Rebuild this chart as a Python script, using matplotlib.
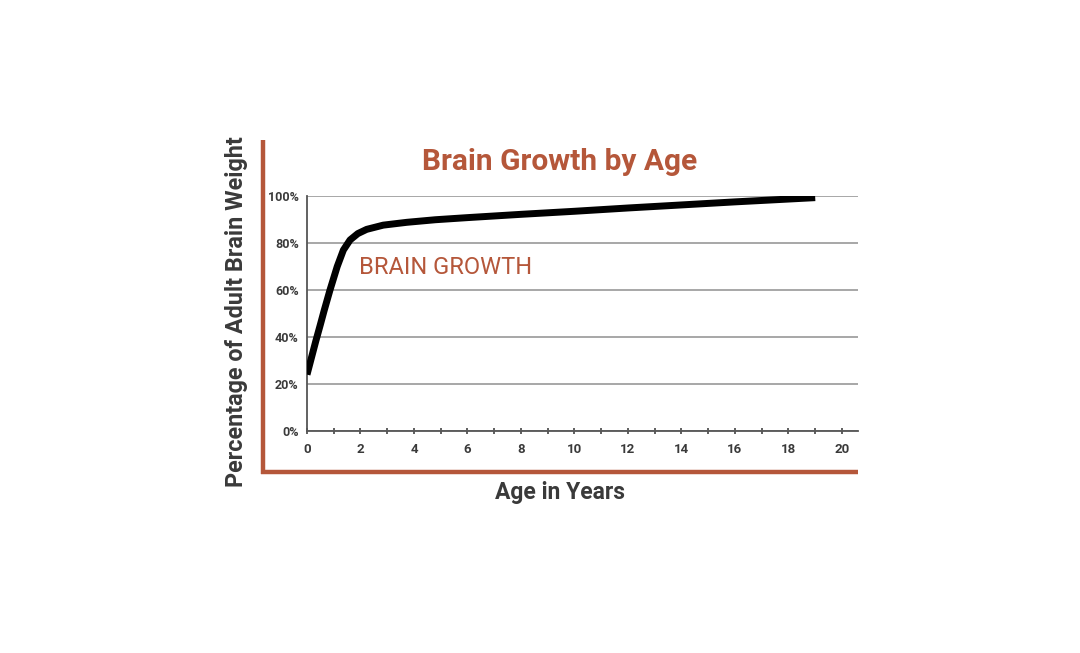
import numpy as np
import matplotlib.pyplot as plt
from matplotlib.ticker import MultipleLocator, FuncFormatter

# 年龄（岁）与成人脑重百分比
age = [0, 0.15, 0.33, 0.5, 0.64, 0.86, 1.13, 1.36, 1.61, 1.9, 2.23, 2.85, 3.73,
       4.8, 6, 8, 10, 12, 14, 16, 19]
pct = [24, 30.5, 38.3, 45.3, 51.2, 60, 70, 77, 81.3, 84, 85.8, 87.6, 88.8,
       89.9, 90.8, 92.2, 93.5, 94.9, 96.2, 97.5, 99.3]

x_ticks = [0, 2, 4, 6, 8, 10, 12, 14, 16, 18, 20]
y_ticks = [0, 20, 40, 60, 80, 100]

rust = '#b5573a'
dark = '#3a3a3a'

plt.rcParams['font.family'] = ['Roboto', 'DejaVu Sans']

fig = plt.figure(figsize=(10.8, 6.53), dpi=100)
ax = fig.add_axes([307 / 1080, 1 - 431 / 653, 551 / 1080, 235 / 653])

ax.plot(age, pct, color='black', lw=5, solid_capstyle='butt',
        solid_joinstyle='round', zorder=3)

ax.set_xlim(0, 20.6)
ax.set_ylim(0, 100)
ax.set_xticks(x_ticks)
ax.xaxis.set_minor_locator(MultipleLocator(1))
ax.set_yticks(y_ticks)
ax.yaxis.set_major_formatter(FuncFormatter(lambda v, p: f'{int(v)}%'))

ax.grid(axis='y', color='#a0a0a0', lw=1.3)
for s in ['top', 'right']:
    ax.spines[s].set_visible(False)
for s in ['left', 'bottom']:
    ax.spines[s].set_color('#555555')
    ax.spines[s].set_linewidth(1.3)

ax.tick_params(axis='x', which='both', direction='inout', length=5, width=1.2,
               color='#444444', labelsize=9.5, labelcolor=dark, pad=6)
ax.tick_params(axis='y', length=0, labelsize=9, labelcolor=dark, pad=6)
for lab in ax.get_xticklabels() + ax.get_yticklabels():
    lab.set_fontweight('bold')

ax.text(1.95, 69.5, 'BRAIN GROWTH', color=rust, fontsize=17, va='center', ha='left')

# 外框的橙色线
fig.add_artist(plt.Line2D([263 / 1080, 263 / 1080], [1 - 140 / 653, 1 - 474 / 653],
                          color=rust, lw=3.2, solid_capstyle='butt'))
fig.add_artist(plt.Line2D([261 / 1080, 858 / 1080], [1 - 472 / 653, 1 - 472 / 653],
                          color=rust, lw=3.2, solid_capstyle='butt'))

fig.text(560 / 1080, 1 - 162 / 653, 'Brain Growth by Age', color=rust,
         fontsize=21.5, fontweight='bold', ha='center', va='center')
fig.text(237 / 1080, 1 - 312 / 653, 'Percentage of Adult Brain Weight', color=dark,
         fontsize=16.8, fontweight='bold', rotation=90, ha='center', va='center')
fig.text(560 / 1080, 1 - 492 / 653, 'Age in Years', color=dark,
         fontsize=16.5, fontweight='bold', ha='center', va='center')

fig.savefig('out.png', dpi=100, facecolor='white')
